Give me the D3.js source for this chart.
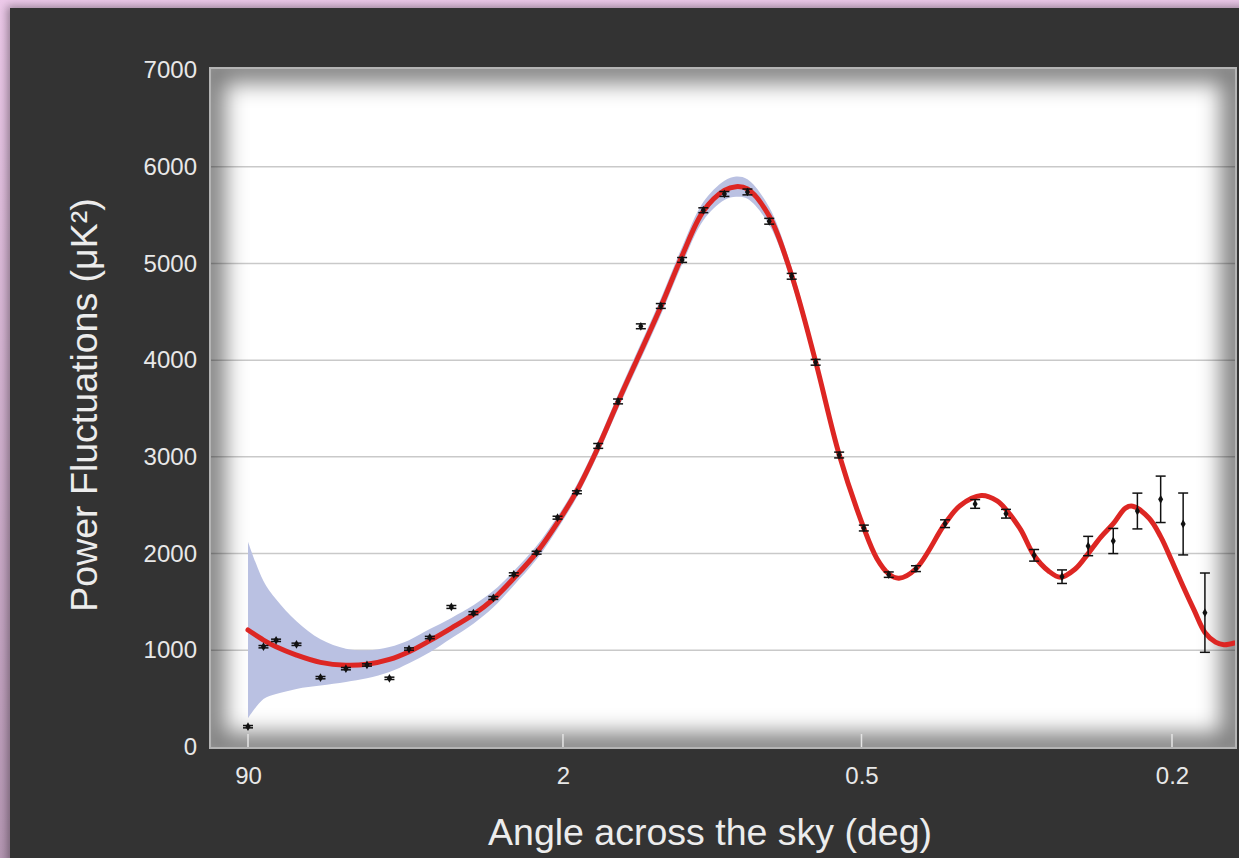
<!DOCTYPE html>
<html>
<head>
<meta charset="utf-8">
<script src="https://cdn.jsdelivr.net/npm/d3@7"></script>
<style>
  html, body { margin: 0; padding: 0; background: #d9b8d6; }
  svg { display: block; }
  text { font-family: "Liberation Sans", Arial, Helvetica, sans-serif; }
</style>
</head>
<body>
<svg id="chart" width="1239" height="858"></svg>
<script>
// Angular power spectrum: multipole l vs D_l (µK²), shown against angle on the sky.

// Tick angles (degrees) along the bottom axis; multipole l = 180 / angle
const angleTicks = [90, 2, 0.5, 0.2];
const angleTickLabels = ["90", "2", "0.5", "0.2"];
const powerTicks = [0, 1000, 2000, 3000, 4000, 5000, 6000, 7000];

// Best-fit model curve
const curveL = [2,3,4,6,9,13,17,22,27,33,40,48,56,65,76,87,98,111,124,155,172,190,209,220,231,253,277,304,332,363,380,396,410,434,477,500,534,560,575,600,624,650,672,700,725,750,775,800,815,850,875,900,925,950,975,1000,1020,1045];
const curveD = [1210,1106,1037,951,875,845,855,905,985,1100,1230,1370,1530,1745,2010,2320,2650,3100,3570,4553,5080,5540,5755,5794,5770,5490,4875,3985,3025,2264,1950,1790,1745,1843,2310,2495,2600,2545,2455,2250,1980,1820,1755,1840,2000,2170,2309,2470,2490,2365,2175,1920,1660,1415,1185,1085,1058,1075];

// Uncertainty band around the model (half-width, µK²)
const bandL = [2,3,4,6,9,13,17,22,27,33,40,48,56,65,76,87,98,111,124,155,172,190,209,220,231,253,277,304,332,363];
const bandHalf = [913,610,490,350,240,172,145,130,120,120,105,95,85,75,70,65,65,70,75,85,90,95,100,105,100,90,80,60,45,20];

// Binned measurements with 1-sigma errors
const pointL = [2,3,4,6,9,13,17,22,27,33,40,48,56,65,76,87,98,111,124,140,155,172,190,209,231,253,277,304,332,363,396,434,477,524,575,624,675,725,775,825,875,925,975];
const pointD = [210,1037,1103,1062,717,810,848,710,1013,1132,1448,1384,1541,1786,2009,2371,2634,3113,3573,4350,4560,5036,5550,5718,5739,5436,4867,3978,3019,2264,1782,1844,2309,2513,2412,1982,1761,2078,2130,2440,2561,2306,1389];
const pointErr = [12,12,12,12,12,12,12,12,12,12,15,15,15,15,15,15,15,25,25,25,25,25,25,25,30,30,30,30,30,30,28,30,40,45,45,60,70,100,130,185,240,320,410];

const W = 1239, H = 858;
const plot = { left: 210, top: 68, right: 1236, bottom: 748 };
const smooth = d3.curveCatmullRom.alpha(0.5);

const svg = d3.select("#chart");
const defs = svg.append("defs");

// Page backdrop and dark panel
const bg = defs.append("linearGradient").attr("id", "bgGrad").attr("x1", 0).attr("y1", 0).attr("x2", 0).attr("y2", 1);
bg.append("stop").attr("offset", "0%").attr("stop-color", "#ecc9e9");
bg.append("stop").attr("offset", "100%").attr("stop-color", "#b597b3");
svg.append("rect").attr("width", W).attr("height", H).attr("fill", "url(#bgGrad)");

const panelShadow = defs.append("filter").attr("id", "panelShadow").attr("x", "-5%").attr("y", "-5%").attr("width", "110%").attr("height", "110%");
panelShadow.append("feGaussianBlur").attr("stdDeviation", 4);
svg.append("rect").attr("x", 7).attr("y", 6).attr("width", W).attr("height", H)
  .attr("fill", "#000").attr("opacity", 0.35).attr("filter", "url(#panelShadow)");
svg.append("rect").attr("x", 10).attr("y", 8).attr("width", W).attr("height", H).attr("fill", "#333333");

// Scales
const x = d3.scalePow().exponent(0.4).domain([2, 900]).range([248, 1172]);
const y = d3.scaleLinear().domain([0, 7000]).range([747, 70]);

// Plot area
defs.append("clipPath").attr("id", "plotClip").append("rect")
  .attr("x", plot.left).attr("y", plot.top)
  .attr("width", plot.right - plot.left).attr("height", plot.bottom - plot.top);

svg.append("rect").attr("x", plot.left).attr("y", plot.top)
  .attr("width", plot.right - plot.left).attr("height", plot.bottom - plot.top)
  .attr("fill", "#ffffff");

const inner = svg.append("g").attr("clip-path", "url(#plotClip)");

// Horizontal grid
inner.append("g").selectAll("line").data(powerTicks.filter(v => v > 0 && v < 7000)).join("line")
  .attr("x1", plot.left).attr("x2", plot.right)
  .attr("y1", d => y(d)).attr("y2", d => y(d))
  .attr("stroke", "#c9c9c9").attr("stroke-width", 1.5);

// Inner shadow of the plot frame
const innerShadow = defs.append("filter").attr("id", "innerShadow").attr("x", "-10%").attr("y", "-10%").attr("width", "120%").attr("height", "120%");
innerShadow.append("feGaussianBlur").attr("stdDeviation", 11);
inner.append("rect").attr("x", plot.left).attr("y", plot.top)
  .attr("width", plot.right - plot.left).attr("height", plot.bottom - plot.top)
  .attr("fill", "none").attr("stroke", "#000").attr("stroke-opacity", 0.5)
  .attr("stroke-width", 30).attr("filter", "url(#innerShadow)");

// Small tick marks along the bottom edge
inner.append("g").selectAll("line").data(angleTicks).join("line")
  .attr("x1", a => x(180 / a)).attr("x2", a => x(180 / a))
  .attr("y1", plot.bottom - 14).attr("y2", plot.bottom)
  .attr("stroke", "#e4e4e4").attr("stroke-width", 1.5);

// Uncertainty band
const curveAt = new Map(curveL.map((l, i) => [l, curveD[i]]));
const bandData = bandL.map((l, i) => ({ l, lo: curveAt.get(l) - bandHalf[i], hi: curveAt.get(l) + bandHalf[i] }));
inner.append("path").datum(bandData)
  .attr("fill", "#bac1e2")
  .attr("d", d3.area().curve(smooth)
    .x(d => x(d.l)).y0(d => y(d.lo)).y1(d => y(d.hi)));

// Model curve
const curveData = curveL.map((l, i) => ({ l, d: curveD[i] }));
inner.append("path").datum(curveData)
  .attr("fill", "none").attr("stroke", "#dd2623").attr("stroke-width", 5)
  .attr("stroke-linejoin", "round").attr("stroke-linecap", "round")
  .attr("d", d3.line().curve(smooth).x(d => x(d.l)).y(d => y(d.d)));

// Measurements with error bars
const pts = pointL.map((l, i) => ({ l, d: pointD[i], e: pointErr[i] }));
const pg = inner.append("g").selectAll("g").data(pts).join("g")
  .attr("transform", d => `translate(${x(d.l)},0)`);
pg.append("line").attr("x1", 0).attr("x2", 0)
  .attr("y1", d => y(d.d - d.e)).attr("y2", d => y(d.d + d.e))
  .attr("stroke", "#111").attr("stroke-width", 1.5);
pg.append("line").attr("x1", -5).attr("x2", 5)
  .attr("y1", d => y(d.d - d.e)).attr("y2", d => y(d.d - d.e))
  .attr("stroke", "#111").attr("stroke-width", 1.5);
pg.append("line").attr("x1", -5).attr("x2", 5)
  .attr("y1", d => y(d.d + d.e)).attr("y2", d => y(d.d + d.e))
  .attr("stroke", "#111").attr("stroke-width", 1.5);
pg.append("path")
  .attr("transform", d => `translate(0,${y(d.d)})`)
  .attr("d", d3.symbol(d3.symbolDiamond, 22))
  .attr("fill", "#111");

// Plot frame
svg.append("rect").attr("x", plot.left).attr("y", plot.top)
  .attr("width", plot.right - plot.left).attr("height", plot.bottom - plot.top)
  .attr("fill", "none").attr("stroke", "#b4b4b4").attr("stroke-width", 2);

// Axes
const yAxis = svg.append("g").attr("transform", `translate(${plot.left},0)`)
  .call(d3.axisLeft(y).tickValues(powerTicks).tickSize(0).tickPadding(13).tickFormat(d3.format("d")));
yAxis.select(".domain").remove();
yAxis.selectAll("text").attr("fill", "#e8e8e8").attr("font-size", 24)
  .attr("font-family", "'Liberation Sans', Arial, sans-serif");

const xAxis = svg.append("g").attr("transform", `translate(0,${plot.bottom})`)
  .call(d3.axisBottom(x).tickValues(angleTicks.map(a => 180 / a)).tickSize(0).tickPadding(19)
    .tickFormat((d, i) => angleTickLabels[i]));
xAxis.select(".domain").remove();
xAxis.selectAll("text").attr("fill", "#e8e8e8").attr("font-size", 24)
  .attr("font-family", "'Liberation Sans', Arial, sans-serif");

// Axis titles
svg.append("text").attr("x", 710).attr("y", 845).attr("text-anchor", "middle")
  .attr("fill", "#ececec").attr("font-size", 37.5).text("Angle across the sky (deg)");
svg.append("text").attr("transform", "translate(97,405) rotate(-90)").attr("text-anchor", "middle")
  .attr("fill", "#ececec").attr("font-size", 37.5).text("Power Fluctuations (μK²)");
</script>
</body>
</html>
